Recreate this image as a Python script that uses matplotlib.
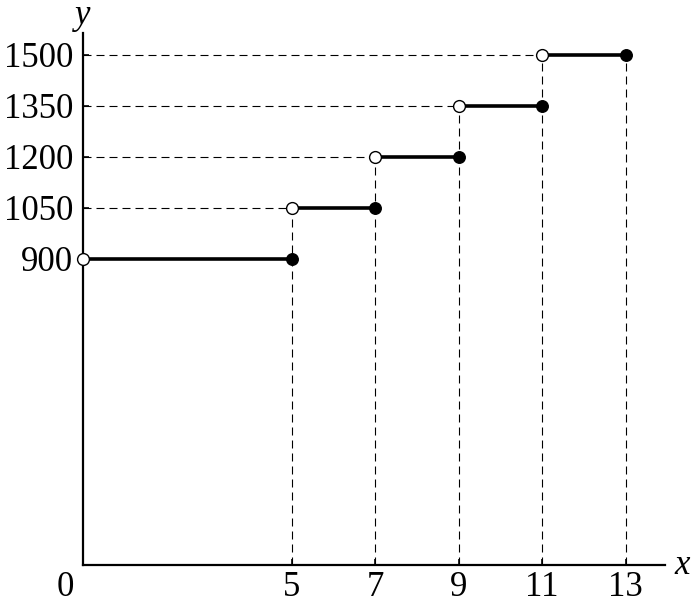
import matplotlib
matplotlib.use("Agg")
import matplotlib.pyplot as plt

starts = [0, 5, 7, 9, 11]
ends = [5, 7, 9, 11, 13]
levels = [900, 1050, 1200, 1350, 1500]
xticks = [5, 7, 9, 11, 13]
yticks = [900, 1050, 1200, 1350, 1500]

plt.rcParams['font.family'] = ['Liberation Serif', 'DejaVu Serif']
W, H = 693, 603
fig = plt.figure(figsize=(W / 100, H / 100), dpi=100)
left, right, bottom_px, top_px = 83, 665, 565, 33
ax = fig.add_axes([left / W, (H - bottom_px) / H, (right - left) / W, (bottom_px - top_px) / H])
xmax = (right - left) / 41.75
ymax = (bottom_px - top_px) / 0.34
ax.set_xlim(0, xmax)
ax.set_ylim(0, ymax)

for s in ['top', 'right']:
    ax.spines[s].set_visible(False)
for s in ['left', 'bottom']:
    ax.spines[s].set_linewidth(1.6)

fs = 25
ax.set_xticks(xticks)
ax.set_xticklabels([str(v) for v in xticks], fontsize=fs)
ax.set_yticks(yticks)
ax.set_yticklabels([str(v) for v in yticks], fontsize=fs)
ax.tick_params(axis='both', direction='in', length=4, width=1.2)
ax.tick_params(axis='x', pad=4)
ax.tick_params(axis='y', pad=7)

dash = (0, (7.2, 4.5))
for i, xe in enumerate(ends):
    top = levels[i + 1] if i + 1 < len(levels) else levels[i]
    ax.plot([xe, xe], [0, top], color='black', lw=0.8, linestyle=dash, zorder=1)
for xs, lv in zip(starts, levels):
    if xs > 0:
        ax.plot([0, xs], [lv, lv], color='black', lw=0.8, linestyle=dash, zorder=1)

for xs, xe, lv in zip(starts, ends, levels):
    ax.plot([xs, xe], [lv, lv], color='black', lw=2.6, solid_capstyle='butt', zorder=2)
    ax.plot([xe], [lv], marker='o', ms=8.3, color='black', zorder=3, clip_on=False)
    ax.plot([xs], [lv], marker='o', ms=8.5, mfc='white', mec='black', mew=1.0, zorder=4, clip_on=False)

fig.text(65 / W, 1 - 587 / H, '0', fontsize=fs, ha='center', va='center')
fig.text(83 / W, 1 - 16 / H, 'y', fontsize=fs, style='italic', ha='center', va='center')
fig.text(682 / W, 1 - 566 / H, 'x', fontsize=fs, style='italic', ha='center', va='center')

fig.savefig('out.png', dpi=100)
